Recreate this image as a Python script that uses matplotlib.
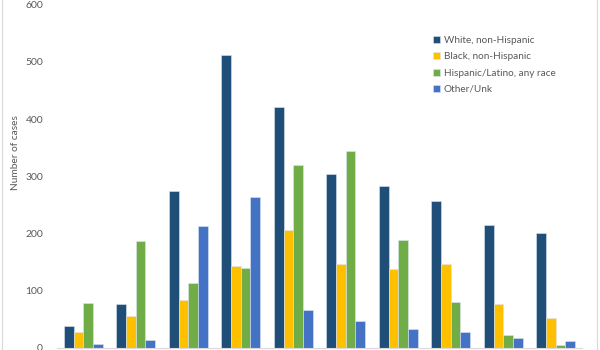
import numpy as np
import matplotlib
matplotlib.use('Agg')
import matplotlib.pyplot as plt
from matplotlib.patches import Rectangle

plt.rcParams['font.family'] = ['Lato', 'DejaVu Sans']

categories = ['1', '2', '3', '4', '5', '6', '7', '8', '9', '10']
series_names = ['White, non-Hispanic', 'Black, non-Hispanic',
                'Hispanic/Latino, any race', 'Other/Unk']
white = [38, 77, 274, 512, 421, 304, 283, 256, 214, 200]
black = [27, 55, 83, 143, 206, 147, 137, 147, 76, 52]
hispanic = [79, 187, 113, 140, 320, 344, 189, 80, 23, 4]
other = [6, 14, 213, 263, 66, 46, 33, 28, 17, 12]
colors = ['#1F4E79', '#FFC000', '#70AD47', '#4472C4']

fig = plt.figure(figsize=(6, 3.5), dpi=100)
ax = fig.add_axes([57 / 600, 2.3 / 350, 525 / 600, 343 / 350])

x = np.arange(len(categories))
width = 0.185
for i, (vals, name) in enumerate(zip([white, black, hispanic, other], series_names)):
    ax.bar(x + (i - 1.5) * width, vals, width, color=colors[i], label=name,
           edgecolor='#dde6f0', linewidth=0.4)

ax.set_xlim(-0.5, len(categories) - 0.5)
ax.set_ylim(0, 600)
ax.set_yticks(range(0, 601, 100))
ax.set_xticks(x)
ax.set_xticklabels([])
ax.tick_params(axis='both', length=0, labelsize=7.5, labelcolor='#595959', pad=10)
for s in ['top', 'right', 'left']:
    ax.spines[s].set_visible(False)
ax.spines['bottom'].set_color('#d9d9d9')
ax.spines['bottom'].set_linewidth(0.8)

ax.set_ylabel('Number of cases', fontsize=7.3, color='#595959')
ax.yaxis.set_label_coords(-0.07, 0.57)

leg = ax.legend(loc='upper left', bbox_to_anchor=(372 / 525, 0.92), frameon=False,
                fontsize=7.2, handlelength=0.7, handleheight=0.7, handletextpad=0.4,
                labelspacing=0.72, borderaxespad=0)
for t in leg.get_texts():
    t.set_color('#595959')

fig.patches.append(Rectangle((2 / 600, -0.01), 595 / 600, 1.1, transform=fig.transFigure,
                             fill=False, edgecolor='#d9d9d9', linewidth=0.8))

fig.savefig('out.png', dpi=100)
